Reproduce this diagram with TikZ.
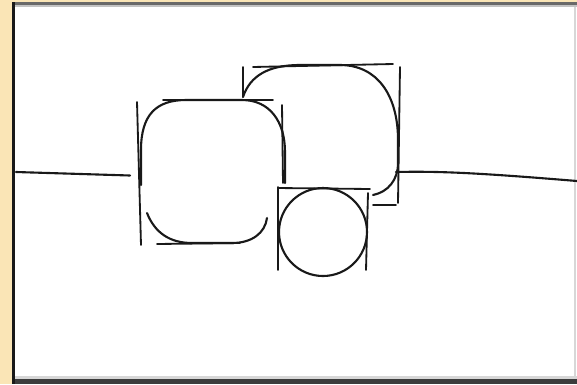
\documentclass[tikz,border=0pt]{standalone}
\usepackage{tikz}
\usetikzlibrary{calc}
\definecolor{paneyellow}{RGB}{250,229,182}
\definecolor{edgegray}{RGB}{105,105,105}
\definecolor{edgedark}{RGB}{60,60,60}
\definecolor{edgelight}{RGB}{215,215,215}
\definecolor{inkblack}{RGB}{25,25,25}

\begin{document}
\begin{tikzpicture}[x=0.025cm,y=-0.025cm,
    ink/.style={inkblack,line width=1.5pt,line cap=round,line join=round},
    guide/.style={inkblack,line width=1.3pt,line cap=round}]
  \useasboundingbox (0,0) rectangle (577,384);
  % window frame
  \fill[paneyellow] (0,0) rectangle (577,384);
  \fill[white] (15,6) rectangle (577,380);
  \fill[black!90] (12,2) rectangle (15,384);
  \fill[edgegray] (15,2) rectangle (577,5);
  \fill[edgegray!40] (15,5) rectangle (577,7);
  \fill[edgelight] (15,376) rectangle (577,379);
  \fill[edgedark] (15,379) rectangle (577,384);
  \fill[edgelight] (574,7) rectangle (576,376);
  % horizon
  \draw[ink] (16,172) -- (130,175.5);
  \draw[ink] (396,172) .. controls (440,171) and (480,173) .. (577,181);
  % left block
  \draw[guide] (137,102) -- (141,245);
  \draw[guide] (163,100) -- (273,100);
  \draw[guide] (157,244) -- (240,243);
  \draw[guide] (282,105) -- (283,183);
  \draw[ink] (141,185) -- (141,150) .. controls (141,115) and (156,100) .. (186,100)
    -- (242,100) .. controls (270,100) and (285,122) .. (285,152) -- (285,183);
  \draw[ink] (147,213) .. controls (155,233) and (170,243) .. (192,243)
    -- (232,243) .. controls (252,243) and (265,233) .. (267,218);
  % upper right block
  \draw[guide] (243,67) -- (243,97);
  \draw[guide] (253,67) -- (393,64);
  \draw[guide] (400,67) -- (398,203);
  \draw[guide] (373,205) -- (396,205);
  \draw[ink] (243,97) .. controls (250,76) and (268,65) .. (300,65)
    -- (340,65) .. controls (377,65) and (398,95) .. (398,140)
    -- (398,163) .. controls (398,180) and (388,192) .. (373,195);
  % small block
  \draw[guide] (278,187) -- (278,270);
  \draw[guide] (278,188) -- (370,189);
  \draw[guide] (368,193) -- (366,270);
  \draw[ink] (323,232) circle (44);
\end{tikzpicture}
\end{document}
